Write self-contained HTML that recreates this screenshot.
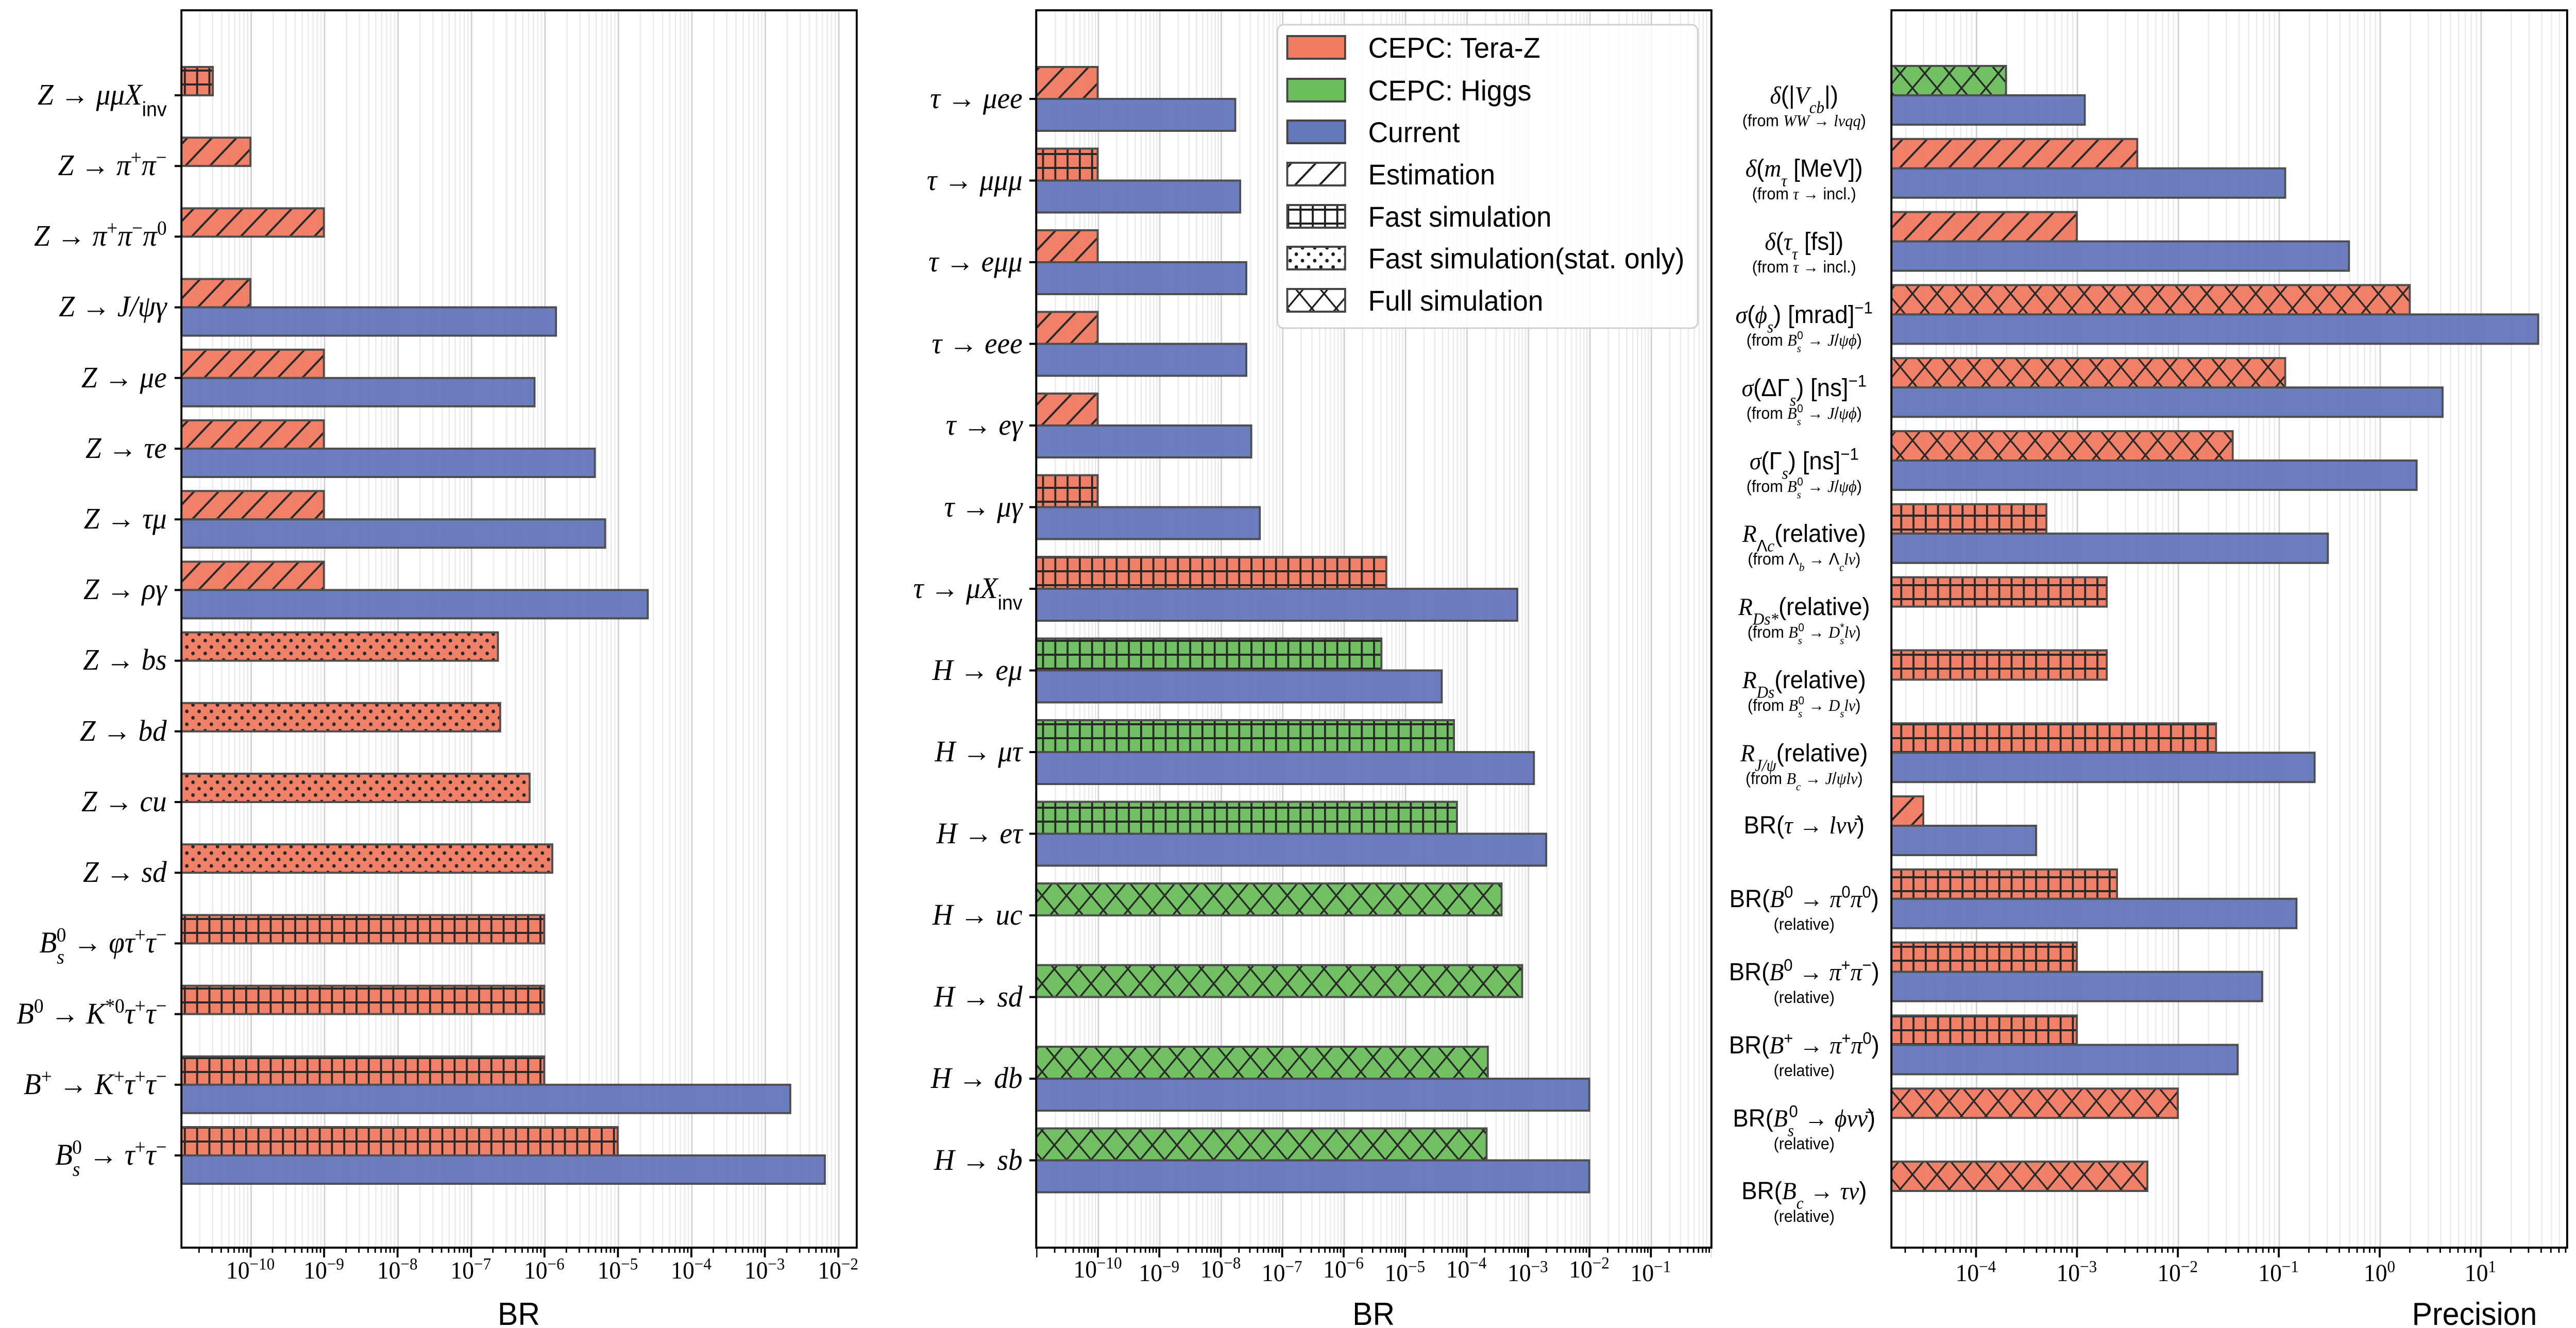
<!DOCTYPE html>
<html><head><meta charset="utf-8"><style>
html,body{margin:0;padding:0;background:#fff;overflow:hidden;width:100%;height:100%}
svg{display:block;width:100vw;height:100vh}
.r{fill:#f07b60}.g{fill:#6abd5b}.b{fill:#6477ba}
.s{stroke:#454545;stroke-width:4}
.m{font-family:"Liberation Serif","DejaVu Serif",serif;font-style:italic;font-size:58px}
.n{font-style:normal}
.u{baseline-shift:super;font-size:68%}
.d{baseline-shift:sub;font-size:68%}
.sf{font-family:"Liberation Sans","DejaVu Sans",sans-serif;font-style:normal}
.p{font-family:"Liberation Sans","DejaVu Sans",sans-serif;font-size:48px}
.q{font-family:"Liberation Sans","DejaVu Sans",sans-serif;font-size:32px}
.i{font-family:"Liberation Serif","DejaVu Serif",serif;font-style:italic}
.tl{font-family:"Liberation Serif","DejaVu Serif",serif;font-size:48px}
.ax{font-family:"Liberation Sans","DejaVu Sans",sans-serif;font-size:62px}
.lg{font-family:"Liberation Sans","DejaVu Sans",sans-serif;font-size:56px}
</style></head><body>
<svg viewBox="0 0 5253 2578" preserveAspectRatio="none" xmlns="http://www.w3.org/2000/svg">
<defs>
<pattern id="hd" patternUnits="userSpaceOnUse" width="50" height="50"><path d="M-5,55 L55,-5 M-30,30 L30,-30 M20,80 L80,20" stroke="#1e1e1e" stroke-width="4"/></pattern>
<pattern id="hg" patternUnits="userSpaceOnUse" width="25" height="27"><path d="M2,0 V27 M0,2 H25" stroke="#1e1e1e" stroke-width="4"/></pattern>
<pattern id="hx" patternUnits="userSpaceOnUse" width="50" height="57"><path d="M0,0 L50,57 M50,0 L0,57" stroke="#1e1e1e" stroke-width="3.5"/></pattern>
<pattern id="hp" patternUnits="userSpaceOnUse" width="25" height="25"><circle cx="6" cy="6" r="3.6" fill="#1e1e1e"/><circle cx="18.5" cy="18.5" r="3.6" fill="#1e1e1e"/></pattern>

<pattern id="g1" patternUnits="userSpaceOnUse" x="1709" y="0" width="149.8" height="2578">
<rect x="0" width="3" height="2578" fill="#d2d2d2"/>
<g fill="#e9e9e9"><rect x="45.1" width="2.5" height="2578"/><rect x="71.5" width="2.5" height="2578"/><rect x="90.2" width="2.5" height="2578"/><rect x="104.7" width="2.5" height="2578"/><rect x="116.6" width="2.5" height="2578"/><rect x="126.6" width="2.5" height="2578"/><rect x="135.3" width="2.5" height="2578"/><rect x="142.9" width="2.5" height="2578"/></g></pattern>
<pattern id="g2" patternUnits="userSpaceOnUse" x="3366" y="0" width="125.3" height="2578">
<rect x="0" width="3" height="2578" fill="#d2d2d2"/>
<g fill="#e9e9e9"><rect x="37.7" width="2.5" height="2578"/><rect x="59.8" width="2.5" height="2578"/><rect x="75.4" width="2.5" height="2578"/><rect x="87.6" width="2.5" height="2578"/><rect x="97.5" width="2.5" height="2578"/><rect x="105.9" width="2.5" height="2578"/><rect x="113.1" width="2.5" height="2578"/><rect x="119.5" width="2.5" height="2578"/></g></pattern>
<pattern id="g3" patternUnits="userSpaceOnUse" x="4852.2" y="0" width="205.8" height="2578">
<rect x="0" width="3" height="2578" fill="#d2d2d2"/>
<g fill="#e9e9e9"><rect x="61.9" width="2.5" height="2578"/><rect x="98.2" width="2.5" height="2578"/><rect x="123.9" width="2.5" height="2578"/><rect x="143.8" width="2.5" height="2578"/><rect x="160.2" width="2.5" height="2578"/><rect x="173.9" width="2.5" height="2578"/><rect x="185.8" width="2.5" height="2578"/><rect x="196.4" width="2.5" height="2578"/></g></pattern>

<pattern id="t1" patternUnits="userSpaceOnUse" x="1707.5" y="2422" width="149.8" height="30">
<rect x="0" width="4" height="19" fill="#000"/>
<g fill="#000"><rect x="45.1" width="3" height="10"/><rect x="71.5" width="3" height="10"/><rect x="90.2" width="3" height="10"/><rect x="104.7" width="3" height="10"/><rect x="116.6" width="3" height="10"/><rect x="126.6" width="3" height="10"/><rect x="135.3" width="3" height="10"/><rect x="142.9" width="3" height="10"/></g></pattern>
<pattern id="t2" patternUnits="userSpaceOnUse" x="3364.5" y="2422" width="125.3" height="30">
<rect x="0" width="4" height="19" fill="#000"/>
<g fill="#000"><rect x="37.7" width="3" height="10"/><rect x="59.8" width="3" height="10"/><rect x="75.4" width="3" height="10"/><rect x="87.6" width="3" height="10"/><rect x="97.5" width="3" height="10"/><rect x="105.9" width="3" height="10"/><rect x="113.1" width="3" height="10"/><rect x="119.5" width="3" height="10"/></g></pattern>
<pattern id="t3" patternUnits="userSpaceOnUse" x="4850.7" y="2422" width="205.8" height="30">
<rect x="0" width="4" height="19" fill="#000"/>
<g fill="#000"><rect x="61.9" width="3" height="10"/><rect x="98.2" width="3" height="10"/><rect x="123.9" width="3" height="10"/><rect x="143.8" width="3" height="10"/><rect x="160.2" width="3" height="10"/><rect x="173.9" width="3" height="10"/><rect x="185.8" width="3" height="10"/><rect x="196.4" width="3" height="10"/></g></pattern>
</defs>

<rect width="5253" height="2578" fill="#fff"/>

<rect x="370" y="20" width="1377" height="2402" fill="url(#g1)"/>
<rect x="2113" y="20" width="1377" height="2402" fill="url(#g2)"/>
<rect x="3857" y="20" width="1378" height="2402" fill="url(#g3)"/>

<g opacity="0.95">
<rect class="r" x="370" y="130" width="64" height="55"/><rect class="s" fill="url(#hg)" x="370" y="130" width="64" height="55"/>
<rect class="r" x="370" y="267.2" width="140.6" height="55"/><rect class="s" fill="url(#hd)" x="370" y="267.2" width="140.6" height="55"/>
<rect class="r" x="370" y="404.4" width="290.4" height="55"/><rect class="s" fill="url(#hd)" x="370" y="404.4" width="290.4" height="55"/>
<rect class="r" x="370" y="541.6" width="140.6" height="55"/><rect class="s" fill="url(#hd)" x="370" y="541.6" width="140.6" height="55"/>
<rect class="b s" x="370" y="596.6" width="763.8" height="55"/>
<rect class="r" x="370" y="678.8" width="290.4" height="55"/><rect class="s" fill="url(#hd)" x="370" y="678.8" width="290.4" height="55"/>
<rect class="b s" x="370" y="733.8" width="720" height="55"/>
<rect class="r" x="370" y="816" width="290.4" height="55"/><rect class="s" fill="url(#hd)" x="370" y="816" width="290.4" height="55"/>
<rect class="b s" x="370" y="871" width="843" height="55"/>
<rect class="r" x="370" y="953.2" width="290.4" height="55"/><rect class="s" fill="url(#hd)" x="370" y="953.2" width="290.4" height="55"/>
<rect class="b s" x="370" y="1008.2" width="864" height="55"/>
<rect class="r" x="370" y="1090.4" width="290.4" height="55"/><rect class="s" fill="url(#hd)" x="370" y="1090.4" width="290.4" height="55"/>
<rect class="b s" x="370" y="1145.4" width="951" height="55"/>
<rect class="r" x="370" y="1227.6" width="645.4" height="55"/><rect class="s" fill="url(#hp)" x="370" y="1227.6" width="645.4" height="55"/>
<rect class="r" x="370" y="1364.8" width="650" height="55"/><rect class="s" fill="url(#hp)" x="370" y="1364.8" width="650" height="55"/>
<rect class="r" x="370" y="1502" width="710" height="55"/><rect class="s" fill="url(#hp)" x="370" y="1502" width="710" height="55"/>
<rect class="r" x="370" y="1639.2" width="756.3" height="55"/><rect class="s" fill="url(#hp)" x="370" y="1639.2" width="756.3" height="55"/>
<rect class="r" x="370" y="1776.4" width="739.8" height="55"/><rect class="s" fill="url(#hg)" x="370" y="1776.4" width="739.8" height="55"/>
<rect class="r" x="370" y="1913.6" width="739.8" height="55"/><rect class="s" fill="url(#hg)" x="370" y="1913.6" width="739.8" height="55"/>
<rect class="r" x="370" y="2050.8" width="739.8" height="55"/><rect class="s" fill="url(#hg)" x="370" y="2050.8" width="739.8" height="55"/>
<rect class="b s" x="370" y="2105.8" width="1241.6" height="55"/>
<rect class="r" x="370" y="2188" width="889.6" height="55"/><rect class="s" fill="url(#hg)" x="370" y="2188" width="889.6" height="55"/>
<rect class="b s" x="370" y="2243" width="1312" height="55"/>
</g>

<g opacity="0.95">
<rect class="r" x="2113" y="130" width="125.3" height="62"/><rect class="s" fill="url(#hd)" x="2113" y="130" width="125.3" height="62"/>
<rect class="b s" x="2113" y="192" width="406" height="62"/>
<rect class="r" x="2113" y="288.5" width="125.3" height="62"/><rect class="s" fill="url(#hg)" x="2113" y="288.5" width="125.3" height="62"/>
<rect class="b s" x="2113" y="350.5" width="416" height="62"/>
<rect class="r" x="2113" y="447" width="125.3" height="62"/><rect class="s" fill="url(#hd)" x="2113" y="447" width="125.3" height="62"/>
<rect class="b s" x="2113" y="509" width="428.5" height="62"/>
<rect class="r" x="2113" y="605.5" width="125.3" height="62"/><rect class="s" fill="url(#hd)" x="2113" y="605.5" width="125.3" height="62"/>
<rect class="b s" x="2113" y="667.5" width="428.5" height="62"/>
<rect class="r" x="2113" y="764" width="125.3" height="62"/><rect class="s" fill="url(#hd)" x="2113" y="764" width="125.3" height="62"/>
<rect class="b s" x="2113" y="826" width="438.6" height="62"/>
<rect class="r" x="2113" y="922.5" width="125.3" height="62"/><rect class="s" fill="url(#hg)" x="2113" y="922.5" width="125.3" height="62"/>
<rect class="b s" x="2113" y="984.5" width="456" height="62"/>
<rect class="r" x="2113" y="1081" width="714" height="62"/><rect class="s" fill="url(#hg)" x="2113" y="1081" width="714" height="62"/>
<rect class="b s" x="2113" y="1143" width="981" height="62"/>
<rect class="g" x="2113" y="1239.5" width="704" height="62"/><rect class="s" fill="url(#hg)" x="2113" y="1239.5" width="704" height="62"/>
<rect class="b s" x="2113" y="1301.5" width="827" height="62"/>
<rect class="g" x="2113" y="1398" width="852" height="62"/><rect class="s" fill="url(#hg)" x="2113" y="1398" width="852" height="62"/>
<rect class="b s" x="2113" y="1460" width="1015" height="62"/>
<rect class="g" x="2113" y="1556.5" width="858" height="62"/><rect class="s" fill="url(#hg)" x="2113" y="1556.5" width="858" height="62"/>
<rect class="b s" x="2113" y="1618.5" width="1040" height="62"/>
<rect class="g" x="2113" y="1715" width="949" height="62"/><rect class="s" fill="url(#hx)" x="2113" y="1715" width="949" height="62"/>
<rect class="g" x="2113" y="1873.5" width="991" height="62"/><rect class="s" fill="url(#hx)" x="2113" y="1873.5" width="991" height="62"/>
<rect class="g" x="2113" y="2032" width="921" height="62"/><rect class="s" fill="url(#hx)" x="2113" y="2032" width="921" height="62"/>
<rect class="b s" x="2113" y="2094" width="1127.7" height="62"/>
<rect class="g" x="2113" y="2190.5" width="918.5" height="62"/><rect class="s" fill="url(#hx)" x="2113" y="2190.5" width="918.5" height="62"/>
<rect class="b s" x="2113" y="2252.5" width="1127.7" height="62"/>
</g>

<g opacity="0.95">
<rect class="g" x="3857" y="128" width="233.7" height="57"/><rect class="s" fill="url(#hx)" x="3857" y="128" width="233.7" height="57"/>
<rect class="b s" x="3857" y="185" width="394.3" height="57"/>
<rect class="r" x="3857" y="269.8" width="501.3" height="57"/><rect class="s" fill="url(#hd)" x="3857" y="269.8" width="501.3" height="57"/>
<rect class="b s" x="3857" y="326.8" width="803" height="57"/>
<rect class="r" x="3857" y="411.6" width="378" height="57"/><rect class="s" fill="url(#hd)" x="3857" y="411.6" width="378" height="57"/>
<rect class="b s" x="3857" y="468.6" width="933" height="57"/>
<rect class="r" x="3857" y="553.4" width="1057" height="57"/><rect class="s" fill="url(#hx)" x="3857" y="553.4" width="1057" height="57"/>
<rect class="b s" x="3857" y="610.4" width="1319" height="57"/>
<rect class="r" x="3857" y="695.2" width="803" height="57"/><rect class="s" fill="url(#hx)" x="3857" y="695.2" width="803" height="57"/>
<rect class="b s" x="3857" y="752.2" width="1124" height="57"/>
<rect class="r" x="3857" y="837" width="696" height="57"/><rect class="s" fill="url(#hx)" x="3857" y="837" width="696" height="57"/>
<rect class="b s" x="3857" y="894" width="1071" height="57"/>
<rect class="r" x="3857" y="978.8" width="316" height="57"/><rect class="s" fill="url(#hg)" x="3857" y="978.8" width="316" height="57"/>
<rect class="b s" x="3857" y="1035.8" width="890" height="57"/>
<rect class="r" x="3857" y="1120.6" width="439" height="57"/><rect class="s" fill="url(#hg)" x="3857" y="1120.6" width="439" height="57"/>
<rect class="r" x="3857" y="1262.4" width="439" height="57"/><rect class="s" fill="url(#hg)" x="3857" y="1262.4" width="439" height="57"/>
<rect class="r" x="3857" y="1404.2" width="662" height="57"/><rect class="s" fill="url(#hg)" x="3857" y="1404.2" width="662" height="57"/>
<rect class="b s" x="3857" y="1461.2" width="863" height="57"/>
<rect class="r" x="3857" y="1546" width="65" height="57"/><rect class="s" fill="url(#hd)" x="3857" y="1546" width="65" height="57"/>
<rect class="b s" x="3857" y="1603" width="295" height="57"/>
<rect class="r" x="3857" y="1687.8" width="460" height="57"/><rect class="s" fill="url(#hg)" x="3857" y="1687.8" width="460" height="57"/>
<rect class="b s" x="3857" y="1744.8" width="826" height="57"/>
<rect class="r" x="3857" y="1829.6" width="378" height="57"/><rect class="s" fill="url(#hg)" x="3857" y="1829.6" width="378" height="57"/>
<rect class="b s" x="3857" y="1886.6" width="756" height="57"/>
<rect class="r" x="3857" y="1971.4" width="378" height="57"/><rect class="s" fill="url(#hg)" x="3857" y="1971.4" width="378" height="57"/>
<rect class="b s" x="3857" y="2028.4" width="706" height="57"/>
<rect class="r" x="3857" y="2113.2" width="584" height="57"/><rect class="s" fill="url(#hx)" x="3857" y="2113.2" width="584" height="57"/>
<rect class="r" x="3857" y="2255" width="522" height="57"/><rect class="s" fill="url(#hx)" x="3857" y="2255" width="522" height="57"/>
</g>

<g fill="none" stroke="#000" stroke-width="4">
<rect x="370" y="20" width="1377" height="2402"/>
<rect x="2113" y="20" width="1377" height="2402"/>
<rect x="3857" y="20" width="1378" height="2402"/>
</g>
<rect x="370" y="2424" width="1377" height="20" fill="url(#t1)"/>
<rect x="2113" y="2424" width="1377" height="20" fill="url(#t2)"/>
<rect x="3857" y="2424" width="1378" height="20" fill="url(#t3)"/>

<g stroke="#000" stroke-width="4">
<path d="M356,185H370M356,322.2H370M356,459.4H370M356,596.6H370M356,733.8H370M356,871H370M356,1008.2H370M356,1145.4H370M356,1282.6H370M356,1419.8H370M356,1557H370M356,1694.2H370M356,1831.4H370M356,1968.6H370M356,2105.8H370M356,2243H370"/>
<path d="M2099,192H2113M2099,350.5H2113M2099,509H2113M2099,667.5H2113M2099,826H2113M2099,984.5H2113M2099,1143H2113M2099,1301.5H2113M2099,1460H2113M2099,1618.5H2113M2099,1777H2113M2099,1935.5H2113M2099,2094H2113M2099,2252.5H2113"/>
</g>

<g class="tl" text-anchor="middle">
<text x="510.6" y="2482">10<tspan class="u">−10</tspan></text>
<text x="660.4" y="2482">10<tspan class="u">−9</tspan></text>
<text x="810.2" y="2482">10<tspan class="u">−8</tspan></text>
<text x="960" y="2482">10<tspan class="u">−7</tspan></text>
<text x="1109.8" y="2482">10<tspan class="u">−6</tspan></text>
<text x="1259.6" y="2482">10<tspan class="u">−5</tspan></text>
<text x="1409.4" y="2482">10<tspan class="u">−4</tspan></text>
<text x="1559.2" y="2482">10<tspan class="u">−3</tspan></text>
<text x="1709" y="2482">10<tspan class="u">−2</tspan></text>

<text x="2238.3" y="2480">10<tspan class="u">−10</tspan></text>
<text x="2363.6" y="2487">10<tspan class="u">−9</tspan></text>
<text x="2488.9" y="2480">10<tspan class="u">−8</tspan></text>
<text x="2614.2" y="2487">10<tspan class="u">−7</tspan></text>
<text x="2739.5" y="2480">10<tspan class="u">−6</tspan></text>
<text x="2864.8" y="2487">10<tspan class="u">−5</tspan></text>
<text x="2990.1" y="2480">10<tspan class="u">−4</tspan></text>
<text x="3115.4" y="2487">10<tspan class="u">−3</tspan></text>
<text x="3240.7" y="2480">10<tspan class="u">−2</tspan></text>
<text x="3366" y="2487">10<tspan class="u">−1</tspan></text>

<text x="4029" y="2487">10<tspan class="u">−4</tspan></text>
<text x="4234.8" y="2487">10<tspan class="u">−3</tspan></text>
<text x="4440.6" y="2487">10<tspan class="u">−2</tspan></text>
<text x="4646.4" y="2487">10<tspan class="u">−1</tspan></text>
<text x="4852.2" y="2487">10<tspan class="u">0</tspan></text>
<text x="5058" y="2487">10<tspan class="u">1</tspan></text>
</g>

<g class="ax" text-anchor="middle">
<text x="1058" y="2572">BR</text>
<text x="2801" y="2572">BR</text>
<text x="5046" y="2572">Precision</text>
</g>

<g class="m" text-anchor="end">
<text x="340" y="203">Z <tspan class="n">→</tspan> μμX<tspan class="d sf">inv</tspan></text>
<text x="340" y="340">Z <tspan class="n">→</tspan> π<tspan class="u n">+</tspan>π<tspan class="u n">−</tspan></text>
<text x="340" y="477">Z <tspan class="n">→</tspan> π<tspan class="u n">+</tspan>π<tspan class="u n">−</tspan>π<tspan class="u n">0</tspan></text>
<text x="340" y="614">Z <tspan class="n">→</tspan> J/ψγ</text>
<text x="340" y="752">Z <tspan class="n">→</tspan> μe</text>
<text x="340" y="889">Z <tspan class="n">→</tspan> τe</text>
<text x="340" y="1026">Z <tspan class="n">→</tspan> τμ</text>
<text x="340" y="1163">Z <tspan class="n">→</tspan> ργ</text>
<text x="340" y="1300">Z <tspan class="n">→</tspan> bs</text>
<text x="340" y="1438">Z <tspan class="n">→</tspan> bd</text>
<text x="340" y="1575">Z <tspan class="n">→</tspan> cu</text>
<text x="340" y="1712">Z <tspan class="n">→</tspan> sd</text>
<text x="340" y="1849">B<tspan class="d">s</tspan><tspan class="u n" dx="-16">0</tspan> <tspan class="n">→</tspan> φτ<tspan class="u n">+</tspan>τ<tspan class="u n">−</tspan></text>
<text x="340" y="1987">B<tspan class="u n">0</tspan> <tspan class="n">→</tspan> K<tspan class="u n">*0</tspan>τ<tspan class="u n">+</tspan>τ<tspan class="u n">−</tspan></text>
<text x="340" y="2124">B<tspan class="u n">+</tspan> <tspan class="n">→</tspan> K<tspan class="u n">+</tspan>τ<tspan class="u n">+</tspan>τ<tspan class="u n">−</tspan></text>
<text x="340" y="2261">B<tspan class="d">s</tspan><tspan class="u n" dx="-16">0</tspan> <tspan class="n">→</tspan> τ<tspan class="u n">+</tspan>τ<tspan class="u n">−</tspan></text>
</g>

<g class="m" text-anchor="end">
<text x="2085" y="210">τ <tspan class="n">→</tspan> μee</text>
<text x="2085" y="369">τ <tspan class="n">→</tspan> μμμ</text>
<text x="2085" y="527">τ <tspan class="n">→</tspan> eμμ</text>
<text x="2085" y="686">τ <tspan class="n">→</tspan> eee</text>
<text x="2085" y="844">τ <tspan class="n">→</tspan> eγ</text>
<text x="2085" y="1003">τ <tspan class="n">→</tspan> μγ</text>
<text x="2085" y="1161">τ <tspan class="n">→</tspan> μX<tspan class="d sf">inv</tspan></text>
<text x="2085" y="1320">H <tspan class="n">→</tspan> eμ</text>
<text x="2085" y="1478">H <tspan class="n">→</tspan> μτ</text>
<text x="2085" y="1637">H <tspan class="n">→</tspan> eτ</text>
<text x="2085" y="1795">H <tspan class="n">→</tspan> uc</text>
<text x="2085" y="1954">H <tspan class="n">→</tspan> sd</text>
<text x="2085" y="2112">H <tspan class="n">→</tspan> db</text>
<text x="2085" y="2271">H <tspan class="n">→</tspan> sb</text>
</g>

<g text-anchor="middle">
<text class="p" x="3679" y="201"><tspan class="i">δ</tspan>(|<tspan class="i">V</tspan><tspan class="i d">cb</tspan>|)</text>
<text class="q" x="3679" y="245">(from <tspan class="i">WW</tspan> → <tspan class="i">lνqq</tspan>)</text>
<text class="p" x="3679" y="343"><tspan class="i">δ</tspan>(<tspan class="i">m</tspan><tspan class="i d">τ</tspan> [MeV])</text>
<text class="q" x="3679" y="387">(from <tspan class="i">τ</tspan> → incl.)</text>
<text class="p" x="3679" y="485"><tspan class="i">δ</tspan>(<tspan class="i">τ</tspan><tspan class="i d">τ</tspan> [fs])</text>
<text class="q" x="3679" y="529">(from <tspan class="i">τ</tspan> → incl.)</text>
<text class="p" x="3679" y="627"><tspan class="i">σ</tspan>(<tspan class="i">ϕ</tspan><tspan class="i d">s</tspan>) [mrad]<tspan class="u">−1</tspan></text>
<text class="q" x="3679" y="671">(from <tspan class="i">B</tspan><tspan class="i d">s</tspan><tspan class="u" dx="-8">0</tspan> → <tspan class="i">J</tspan>/<tspan class="i">ψϕ</tspan>)</text>
<text class="p" x="3679" y="769"><tspan class="i">σ</tspan>(ΔΓ<tspan class="i d">s</tspan>) [ns]<tspan class="u">−1</tspan></text>
<text class="q" x="3679" y="813">(from <tspan class="i">B</tspan><tspan class="i d">s</tspan><tspan class="u" dx="-8">0</tspan> → <tspan class="i">J</tspan>/<tspan class="i">ψϕ</tspan>)</text>
<text class="p" x="3679" y="911"><tspan class="i">σ</tspan>(Γ<tspan class="i d">s</tspan>) [ns]<tspan class="u">−1</tspan></text>
<text class="q" x="3679" y="955">(from <tspan class="i">B</tspan><tspan class="i d">s</tspan><tspan class="u" dx="-8">0</tspan> → <tspan class="i">J</tspan>/<tspan class="i">ψϕ</tspan>)</text>
<text class="p" x="3679" y="1052"><tspan class="i">R</tspan><tspan class="d">Λ<tspan class="i">c</tspan></tspan>(relative)</text>
<text class="q" x="3679" y="1096">(from Λ<tspan class="i d">b</tspan> → Λ<tspan class="i d">c</tspan><tspan class="i">lν</tspan>)</text>
<text class="p" x="3679" y="1194"><tspan class="i">R</tspan><tspan class="i d">D<tspan>s</tspan>*</tspan>(relative)</text>
<text class="q" x="3679" y="1238">(from <tspan class="i">B</tspan><tspan class="i d">s</tspan><tspan class="u" dx="-8">0</tspan> → <tspan class="i">D</tspan><tspan class="i d">s</tspan><tspan class="u" dx="-8">*</tspan><tspan class="i">lν</tspan>)</text>
<text class="p" x="3679" y="1336"><tspan class="i">R</tspan><tspan class="i d">D<tspan>s</tspan></tspan>(relative)</text>
<text class="q" x="3679" y="1380">(from <tspan class="i">B</tspan><tspan class="i d">s</tspan><tspan class="u" dx="-8">0</tspan> → <tspan class="i">D</tspan><tspan class="i d">s</tspan><tspan class="i">lν</tspan>)</text>
<text class="p" x="3679" y="1478"><tspan class="i">R</tspan><tspan class="i d">J/ψ</tspan>(relative)</text>
<text class="q" x="3679" y="1522">(from <tspan class="i">B</tspan><tspan class="i d">c</tspan> → <tspan class="i">J</tspan>/<tspan class="i">ψlν</tspan>)</text>
<text class="p" x="3679" y="1618">BR(<tspan class="i">τ</tspan> → <tspan class="i">lνν̄</tspan>)</text>
<text class="p" x="3679" y="1761">BR(<tspan class="i">B</tspan><tspan class="u">0</tspan> → <tspan class="i">π</tspan><tspan class="u">0</tspan><tspan class="i">π</tspan><tspan class="u">0</tspan>)</text>
<text class="q" x="3679" y="1805">(relative)</text>
<text class="p" x="3679" y="1903">BR(<tspan class="i">B</tspan><tspan class="u">0</tspan> → <tspan class="i">π</tspan><tspan class="u">+</tspan><tspan class="i">π</tspan><tspan class="u">−</tspan>)</text>
<text class="q" x="3679" y="1947">(relative)</text>
<text class="p" x="3679" y="2045">BR(<tspan class="i">B</tspan><tspan class="u">+</tspan> → <tspan class="i">π</tspan><tspan class="u">+</tspan><tspan class="i">π</tspan><tspan class="u">0</tspan>)</text>
<text class="q" x="3679" y="2089">(relative)</text>
<text class="p" x="3679" y="2187">BR(<tspan class="i">B</tspan><tspan class="i d">s</tspan><tspan class="u" dx="-10">0</tspan> → <tspan class="i">ϕνν̄</tspan>)</text>
<text class="q" x="3679" y="2231">(relative)</text>
<text class="p" x="3679" y="2328">BR(<tspan class="i">B</tspan><tspan class="i d">c</tspan> → <tspan class="i">τν</tspan>)</text>
<text class="q" x="3679" y="2372">(relative)</text>
</g>

<rect x="2605" y="48" width="857" height="589" rx="12" fill="#fff" fill-opacity="0.85" stroke="#d0d0d0" stroke-width="3"/>
<g>
<rect class="r s" x="2625" y="70" width="118" height="44"/>
<rect class="g s" x="2625" y="153" width="118" height="44"/>
<rect class="b s" x="2625" y="234" width="118" height="44"/>
<rect fill="#fff" x="2625" y="316" width="118" height="44"/><rect class="s" fill="url(#hd)" x="2625" y="316" width="118" height="44"/>
<rect fill="#fff" x="2625" y="398" width="118" height="44"/><rect class="s" fill="url(#hg)" x="2625" y="398" width="118" height="44"/>
<rect fill="#fff" x="2625" y="479" width="118" height="44"/><rect class="s" fill="url(#hp)" x="2625" y="479" width="118" height="44"/>
<rect fill="#fff" x="2625" y="561" width="118" height="44"/><rect class="s" fill="url(#hx)" x="2625" y="561" width="118" height="44"/>
</g>
<g class="lg">
<text x="2790" y="112" textLength="351" lengthAdjust="spacingAndGlyphs">CEPC: Tera-Z</text>
<text x="2790" y="195" textLength="333" lengthAdjust="spacingAndGlyphs">CEPC: Higgs</text>
<text x="2790" y="276" textLength="187" lengthAdjust="spacingAndGlyphs">Current</text>
<text x="2790" y="358" textLength="259" lengthAdjust="spacingAndGlyphs">Estimation</text>
<text x="2790" y="440" textLength="374" lengthAdjust="spacingAndGlyphs">Fast simulation</text>
<text x="2790" y="521" textLength="645" lengthAdjust="spacingAndGlyphs">Fast simulation(stat. only)</text>
<text x="2790" y="603" textLength="357" lengthAdjust="spacingAndGlyphs">Full simulation</text>
</g>
</svg>
</body></html>
